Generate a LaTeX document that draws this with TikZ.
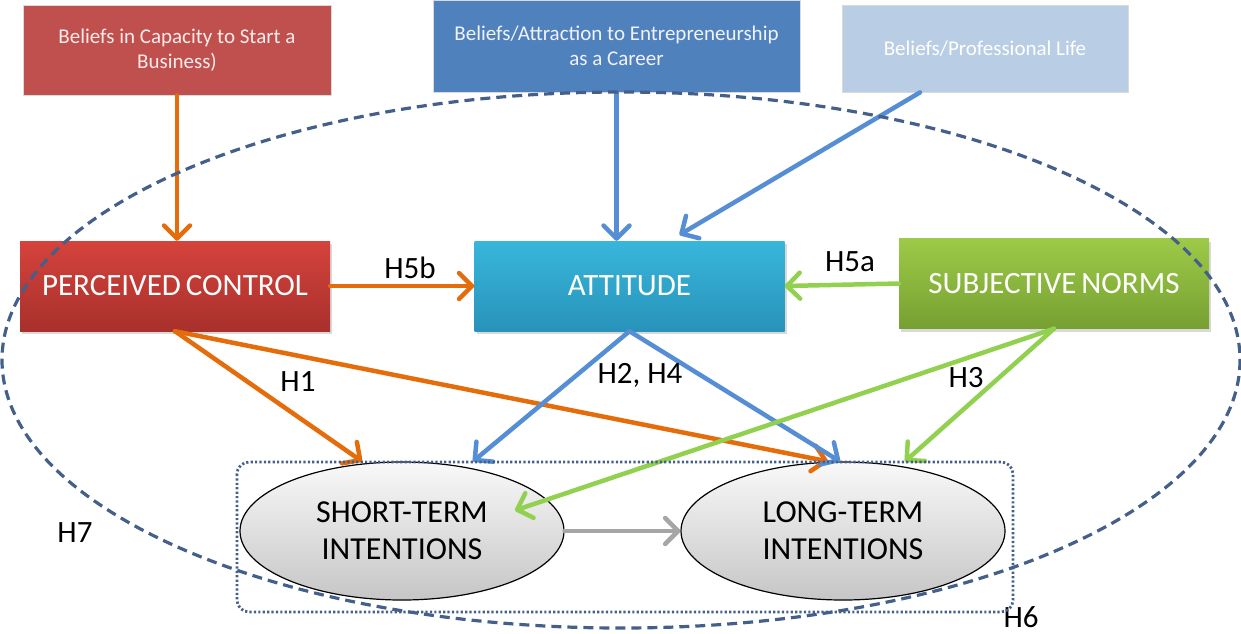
\documentclass[tikz,border=0pt]{standalone}
\usepackage{fontspec}
\setmainfont{Carlito}
\usetikzlibrary{shapes,arrows.meta,shadows}
\usetikzlibrary{positioning}

\definecolor{capred}{HTML}{C0504D}
\definecolor{carblue}{HTML}{4F81BD}
\definecolor{problue}{HTML}{B9CDE5}
\definecolor{linkorange}{HTML}{E46C0A}
\definecolor{linkblue}{HTML}{558ED5}
\definecolor{linkgreen}{HTML}{92D050}
\definecolor{ringblue}{HTML}{44608A}
\definecolor{pctop}{HTML}{D5433C}
\definecolor{pcbot}{HTML}{A8302C}
\definecolor{atttop}{HTML}{38B6DB}
\definecolor{attbot}{HTML}{2893BA}
\definecolor{sntop}{HTML}{9DCA48}
\definecolor{snbot}{HTML}{76A032}

\begin{document}
\begin{tikzpicture}[line cap=round,line join=round,>={Straight Barb[length=13pt,width=26pt,round]},
		x=1pt,y=-1pt,
		belief/.style={rectangle,draw=black!15,line width=0.8pt,inner sep=0pt,align=center,
			font=\fontsize{21}{25}\selectfont},
		factor/.style={rectangle,minimum width=310pt,minimum height=90pt,inner sep=0pt,text=white,
			font=\fontsize{31}{34}\selectfont,drop shadow={opacity=0.3,shadow xshift=2pt,shadow yshift=-3pt}},
		intent/.style={ellipse,draw=black,line width=1.2pt,top color=gray!5,bottom color=gray!45,
			minimum width=324pt,minimum height=138pt,inner sep=0pt,align=center,
			font=\fontsize{32}{37}\selectfont},
		link/.style={->,line width=4.5pt},
		hyp/.style={font=\fontsize{31}{32}\selectfont}]
		\useasboundingbox (0,0) rectangle (1241,633);
		% credenze
		\node[belief,fill=capred,text=white!92!red,minimum width=308pt,minimum height=90pt] (bcap) at (177,50)
			{Beliefs in Capacity to Start a\\Business)};
		\node[belief,fill=carblue,text=white!95!blue,minimum width=367pt,minimum height=92pt] (bcar) at (616.5,46)
			{Beliefs/Attraction to Entrepreneurship\\as a Career};
		\node[belief,fill=problue,text=white,minimum width=286pt,minimum height=87pt] (bpro) at (985,48.5)
			{Beliefs/Professional Life};
		% fattori
		\node[factor,top color=pctop,bottom color=pcbot] (pc) at (175,286) {PERCEIVED\hspace{-2pt} CONTROL};
		\node[factor,top color=atttop,bottom color=attbot] (att) at (629.5,286) {ATTITUDE};
		\node[factor,top color=sntop,bottom color=snbot] (sn) at (1054,283.5) {SUBJECTIVE\hspace{-2pt} NORMS};
		% intenzioni
		\node[intent] (st) at (402,531) {SHORT-TERM\\INTENTIONS};
		\node[intent] (lt) at (843,531) {LONG-TERM\\INTENTIONS};
		% frecce
		\draw[link,linkorange] (bcap.south) -- (bcap.south |- pc.north);
		\draw[link,linkblue] (bcar.south) -- (bcar.south |- att.north);
		\draw[link,linkblue] ([xshift=-65pt]bpro.south) -- ([xshift=50pt,yshift=6pt]att.north);
		\draw[link,linkorange] (pc.east) -- (att.west);
		\draw[link,linkgreen] (sn.west) -- (att.east);
		\draw[link,linkorange] (pc.south) -- ([xshift=-40pt]st.north);
		\draw[link,linkorange] (pc.south) -- ([xshift=-15pt]lt.north);
		\draw[link,linkblue] (att.south) -- ([xshift=71pt]st.north);
		\draw[link,linkblue] (att.south) -- ([xshift=-3pt]lt.north);
		\draw[link,linkgreen] (sn.south) -- ([xshift=113pt,yshift=-49pt]st.north);
		\draw[link,linkgreen] (sn.south) -- ([xshift=62pt]lt.north);
		\draw[link,gray!70] (st.east) -- (lt.west);
		% ipotesi
		\node[hyp] (h5b) at (410,268) {H5b};
		\node[hyp] (h5a) at (850,262) {H5a};
		\node[hyp] (h1) at (298,382) {H1};
		\node[hyp] (h24) at (640,375) {H2, H4};
		\node[hyp] (h3) at (966,378) {H3};
		\node[hyp] (h7) at (75,533) {H7};
		\node[hyp] (h6) at (1021,617) {H6};
		% cornici
		\draw[ringblue,line width=2.8pt,line cap=butt,dash pattern=on 2.2pt off 2.2pt,rounded corners=12pt]
			(237,462) rectangle (1013,612);
		\draw[ringblue,line width=3.2pt,line cap=butt,dash pattern=on 10pt off 6pt] (621,360) ellipse [x radius=619,y radius=268];
\end{tikzpicture}
\end{document}
